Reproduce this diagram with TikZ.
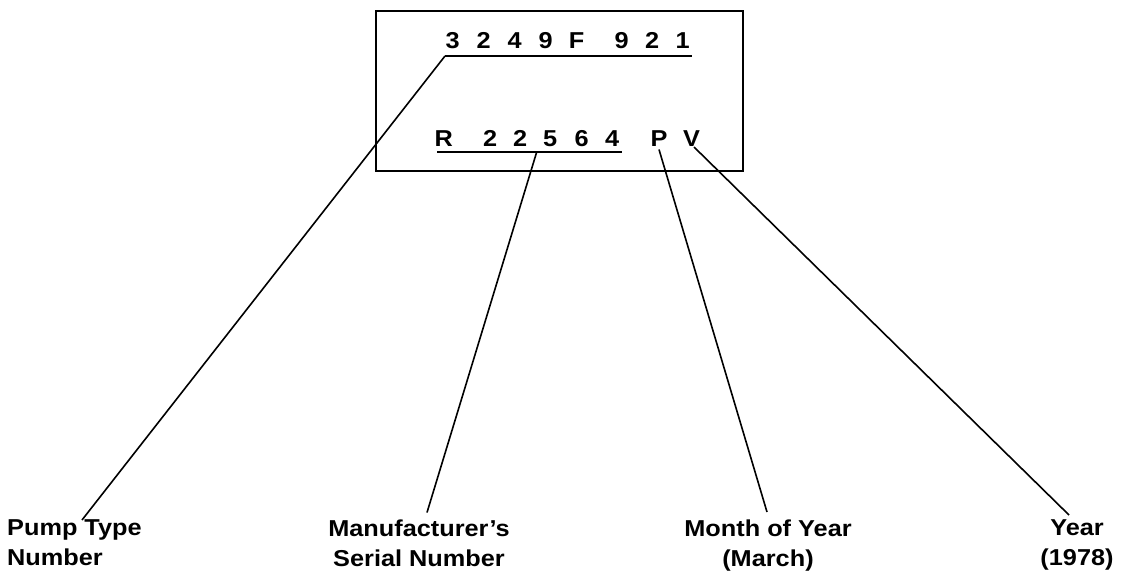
\documentclass[tikz,border=0pt]{standalone}
\usepackage{fontspec}
\setmainfont{Liberation Sans}[FakeStretch=1.1]
\newcommand{\pcc}[1]{\makebox[0pt]{#1}}
\begin{document}
\begin{tikzpicture}[x=1pt,y=-1pt,
  lab/.style={font=\fontsize{23}{30}\selectfont\bfseries, inner sep=0pt, align=center},
  code/.style={font=\fontsize{23}{23}\selectfont\bfseries, inner sep=0pt, anchor=base west},
  plate/.style={draw, line width=2pt, inner sep=0pt, minimum width=366.7pt, minimum height=159.7pt},
  rulel/.style={line width=2pt},
  lead/.style={line width=1.6pt}]
\useasboundingbox (0,0) rectangle (1125,574);
% plate
\node[plate] (plate) at (559.35,90.85) {};
% codes
\node[code] (typecode) at (452.5,48) {\pcc{3}\hspace{31pt}\pcc{2}\hspace{31pt}\pcc{4}\hspace{31pt}\pcc{9}\hspace{31pt}\pcc{F}\hspace{45pt}\pcc{9}\hspace{30.5pt}\pcc{2}\hspace{30.5pt}\pcc{1}};
\node[code] (serialcode) at (443.5,146) {\pcc{R}\hspace{46.5pt}\pcc{2}\hspace{30pt}\pcc{2}\hspace{30pt}\pcc{5}\hspace{31.5pt}\pcc{6}\hspace{30.5pt}\pcc{4}};
\node[code, anchor=base] (monthcode) at (659,146) {P};
\node[code, anchor=base] (yearcode) at (691.5,146) {V};
% underlines
\coordinate (tu1) at (445,56);
\coordinate (tu2) at (692,56);
\coordinate (su1) at (437,152);
\coordinate (su2) at (622,152);
\coordinate (sutap) at (536.7,152);
\coordinate (ptap) at (659,149.5);
\coordinate (vtap) at (694,147);
\draw[rulel] (tu1) -- (tu2);
\draw[rulel] (su1) -- (su2);
% labels
\node[lab, align=left, anchor=north west] (pump) at (7,519.5) {Pump Type\\Number};
\node[lab, anchor=north] (serial) at (419,519.5) {Manufacturer's\\Serial Number};
\node[lab, anchor=north] (month) at (768,519.5) {Month of Year\\(March)};
\node[lab, anchor=north] (year) at (1077,519.5) {Year\\(1978)};
\coordinate (pumpend) at (82,520);
\coordinate (serialend) at (427,512.5);
\coordinate (monthend) at (767,512);
\coordinate (yearend) at (1069,515);
% leaders
\draw[lead] (tu1) -- (pumpend);
\draw[lead] (sutap) -- (serialend);
\draw[lead] (ptap) -- (monthend);
\draw[lead] (vtap) -- (yearend);
\end{tikzpicture}
\end{document}
